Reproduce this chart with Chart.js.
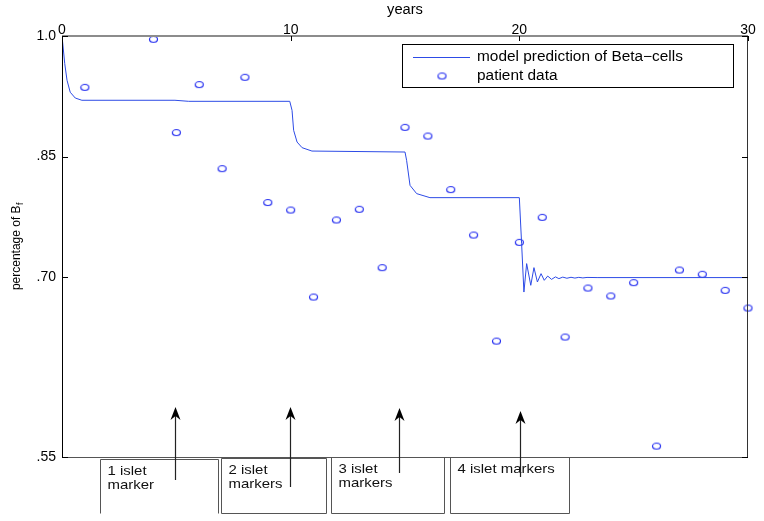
<!DOCTYPE html>
<html><head><meta charset="utf-8">
<script src="https://cdn.jsdelivr.net/npm/chart.js@4.4.0/dist/chart.umd.min.js"></script>
<style>html,body{margin:0;padding:0;background:#fff}#wrap{width:764px;height:521px}</style>
</head><body><div id="wrap"><canvas id="c" width="764" height="521"></canvas></div>
<script>
// ---- data ----
const modelX = [0, 0.12, 0.22, 0.36, 0.58, 0.87, 4.94, 5.54, 9.96, 10.06, 10.13, 10.28, 10.5, 10.93, 15.0, 15.07, 15.22, 15.51, 16.09, 20.0, 20.1, 20.2, 20.32, 20.5, 20.64, 20.79, 20.95, 21.09, 21.24, 21.41, 21.58, 21.73, 21.9, 22.08, 22.26, 22.43, 22.6, 22.78, 22.96, 23.4, 30];
const modelY = [1.0, 0.9656, 0.9449, 0.930, 0.9228, 0.920, 0.920, 0.9187, 0.9187, 0.9075, 0.8826, 0.868, 0.861, 0.8568, 0.8556, 0.8453, 0.8141, 0.8038, 0.7988, 0.7988, 0.7416, 0.6813, 0.7167, 0.6897, 0.7117, 0.6938, 0.7042, 0.6959, 0.7012, 0.6971, 0.7002, 0.6980, 0.6999, 0.6985, 0.6997, 0.6987, 0.6996, 0.6989, 0.6995, 0.6993, 0.6993];
const patientYears = [1, 4, 5, 6, 7, 8, 9, 10, 11, 12, 13, 14, 15, 16, 17, 18, 19, 20, 21, 22, 23, 24, 25, 26, 27, 28, 29, 30];
const patientValues = [0.9361, 0.9959, 0.8798, 0.9395, 0.8349, 0.9486, 0.7927, 0.7834, 0.6751, 0.7710, 0.7843, 0.7117, 0.8863, 0.8755, 0.8088, 0.7523, 0.6203, 0.7432, 0.7743, 0.6253, 0.6863, 0.6764, 0.6930, 0.4896, 0.7087, 0.7034, 0.6834, 0.6614];
const xTickValues = [0, 10, 20, 30];
const yTickValues = [1.0, 0.85, 0.70, 0.476];
const yTickLabels = ['1.0', '.85', '.70', '.55'];
const seriesNames = ['model prediction of Beta\u2212cells', 'patient data'];
const isletMarkerYears = [4.95, 9.97, 14.74, 20.03];
const isletBoxLabels = [['1 islet', 'marker'], ['2 islet', 'markers'], ['3 islet', 'markers'], ['4 islet markers']];

// ---- annotation layout (pixels / year spans) ----
const boxLayout = [
  {x0: 1.66, x1: 6.84, top: 1.5, noBottom: true},
  {x0: 6.95, x1: 11.55, top: 0.5},
  {x0: 11.75, x1: 16.7, top: -0.5},
  {x0: 16.96, x1: 22.16, top: -0.5}
];
const arrowLayout = [{tip: -50, end: 23}, {tip: -50, end: 30}, {tip: -49, end: 16}, {tip: -46, end: 20}];

const FONT = "'Liberation Sans', Arial, Helvetica, sans-serif";
const LINE_COLOR = 'rgb(45,75,230)';
const MARK_COLOR = 'rgb(35,45,240)';

// ellipse marker
const mk = document.createElement('canvas');
mk.width = 11; mk.height = 9;
(function(){ const g = mk.getContext('2d'); g.strokeStyle = MARK_COLOR; g.lineWidth = 1.2;
  g.beginPath(); g.ellipse(5.5, 4.5, 4, 3, 0, 0, Math.PI*2); g.stroke(); })();

function sText(ctx, t, x, y, sx, align) {
  ctx.save(); ctx.translate(x, y); ctx.scale(sx, 1); ctx.textAlign = align; ctx.fillText(t, 0, 0); ctx.restore();
}

const decor = {
  id: 'decor',
  afterDraw(chart) {
    const ctx = chart.ctx, a = chart.chartArea, xs = chart.scales.x, ys = chart.scales.y;
    ctx.save();
    // frame
    ctx.lineWidth = 1;
    ctx.strokeStyle = '#555';
    ctx.beginPath(); ctx.moveTo(a.left, a.bottom + 0.5); ctx.lineTo(a.right, a.bottom + 0.5); ctx.stroke();
    ctx.strokeStyle = '#333';
    ctx.beginPath(); ctx.moveTo(a.right - 0.5, a.top); ctx.lineTo(a.right - 0.5, a.bottom); ctx.stroke();
    ctx.strokeStyle = '#000';
    ctx.beginPath(); ctx.moveTo(a.left + 0.5, a.top); ctx.lineTo(a.left + 0.5, a.bottom + 1); ctx.stroke();
    ctx.strokeStyle = '#8c8c8c'; ctx.lineWidth = 2;
    ctx.beginPath(); ctx.moveTo(a.left, a.top); ctx.lineTo(a.right, a.top); ctx.stroke();
    // inward ticks
    ctx.strokeStyle = '#000'; ctx.lineWidth = 1;
    xTickValues.forEach(v => { const px = Math.round(xs.getPixelForValue(v)) + 0.5;
      ctx.beginPath(); ctx.moveTo(px, a.top); ctx.lineTo(px, a.top + 5); ctx.stroke(); });
    yTickValues.forEach(v => { const py = Math.round(ys.getPixelForValue(v)) + 0.5;
      ctx.beginPath(); ctx.moveTo(a.left, py); ctx.lineTo(a.left + 6, py); ctx.stroke();
      ctx.beginPath(); ctx.moveTo(a.right - 6, py); ctx.lineTo(a.right, py); ctx.stroke(); });
    // axis titles
    ctx.fillStyle = '#000';
    ctx.font = '14px ' + FONT; ctx.textBaseline = 'middle';
    sText(ctx, 'years', (a.left + a.right) / 2, 10, 1.05, 'center');
    ctx.save();
    ctx.translate(17, (a.top + a.bottom) / 2);
    ctx.rotate(-Math.PI / 2);
    ctx.font = '12px ' + FONT; const w1 = ctx.measureText('percentage of B').width;
    ctx.font = '9px ' + FONT; const w2 = ctx.measureText('f').width;
    const st = -(w1 + w2) / 2;
    ctx.font = '12px ' + FONT; ctx.textAlign = 'left'; ctx.textBaseline = 'middle';
    ctx.fillText('percentage of B', st, 0);
    ctx.font = '9px ' + FONT; ctx.fillText('f', st + w1 + 0.5, 4);
    ctx.restore();
    // legend
    const lx0 = 402.5, ly0 = 44.5, lw = 331, lh = 43;
    ctx.fillStyle = '#fff'; ctx.fillRect(lx0, ly0, lw, lh);
    ctx.strokeStyle = '#000'; ctx.lineWidth = 1; ctx.strokeRect(lx0, ly0, lw, lh);
    ctx.strokeStyle = LINE_COLOR; ctx.beginPath(); ctx.moveTo(413, 57.5); ctx.lineTo(470, 57.5); ctx.stroke();
    ctx.drawImage(mk, 442 - 5.5, 76 - 4.5);
    ctx.fillStyle = '#000'; ctx.font = '14px ' + FONT; ctx.textBaseline = 'middle';
    sText(ctx, seriesNames[0], 477, 57, 1.1, 'left');
    sText(ctx, seriesNames[1], 477, 76, 1.1, 'left');
    // islet boxes
    ctx.strokeStyle = '#555'; ctx.lineWidth = 1;
    const boxBottom = a.bottom + 56.5;
    boxLayout.forEach((b, i) => {
      const x0 = Math.round(xs.getPixelForValue(b.x0)) + 0.5, x1 = Math.round(xs.getPixelForValue(b.x1)) + 0.5;
      const top = Math.round(a.bottom + b.top) + 0.5;
      ctx.beginPath();
      if (b.noBottom) { ctx.moveTo(x0, boxBottom); ctx.lineTo(x0, top); ctx.lineTo(x1, top); ctx.lineTo(x1, boxBottom); }
      else { ctx.rect(x0, top, x1 - x0, boxBottom - top); }
      ctx.stroke();
      ctx.fillStyle = '#111'; ctx.font = '13px ' + FONT; ctx.textBaseline = 'middle';
      isletBoxLabels[i].forEach((t, j) => sText(ctx, t, x0 + 7, top + 12 + j * 13.5, 1.15, 'left'));
    });
    // arrows
    isletMarkerYears.forEach((yr, i) => {
      const px = Math.round(xs.getPixelForValue(yr)) + 0.5;
      const tip = a.bottom + arrowLayout[i].tip, end = a.bottom + arrowLayout[i].end;
      ctx.strokeStyle = '#222'; ctx.lineWidth = 1.2;
      ctx.beginPath(); ctx.moveTo(px, end); ctx.lineTo(px, tip + 8); ctx.stroke();
      ctx.fillStyle = '#000';
      ctx.beginPath(); ctx.moveTo(px, tip); ctx.lineTo(px + 5, tip + 13); ctx.lineTo(px, tip + 9); ctx.lineTo(px - 5, tip + 13); ctx.closePath(); ctx.fill();
    });
    ctx.restore();
  }
};

new Chart(document.getElementById('c'), {
  type: 'line',
  data: {
    datasets: [
      {label: seriesNames[0], data: modelX.map((x, i) => ({x: x, y: modelY[i]})), borderColor: LINE_COLOR, borderWidth: 1, pointRadius: 0, tension: 0, fill: false},
      {label: seriesNames[1], data: patientYears.map((x, i) => ({x: x, y: patientValues[i]})), showLine: false, pointStyle: mk, pointRadius: 5, borderColor: MARK_COLOR, clip: false}
    ]
  },
  options: {
    responsive: false, animation: false, devicePixelRatio: 1,
    layout: {padding: {left: 0, right: 16, top: 0, bottom: 64}},
    plugins: {legend: {display: false}, tooltip: {enabled: false}},
    scales: {
      x: {type: 'linear', position: 'top', min: 0, max: 30,
        afterBuildTicks: s => { s.ticks = xTickValues.map(v => ({value: v})); },
        afterFit: s => { s.height = 36; },
        grid: {display: false, drawTicks: false}, border: {display: false},
        ticks: {color: '#000', font: {family: FONT, size: 14}, padding: -3, maxRotation: 0, autoSkip: false}},
      y: {type: 'linear', min: 0.476, max: 1.0,
        afterBuildTicks: s => { s.ticks = yTickValues.map(v => ({value: v})); },
        afterFit: s => { s.width = 62; },
        grid: {display: false, drawTicks: false}, border: {display: false},
        ticks: {color: '#000', font: {family: FONT, size: 14}, padding: 6, autoSkip: false,
          callback: (v, i) => yTickLabels[i]}}
    }
  },
  plugins: [decor]
});
</script></body></html>
